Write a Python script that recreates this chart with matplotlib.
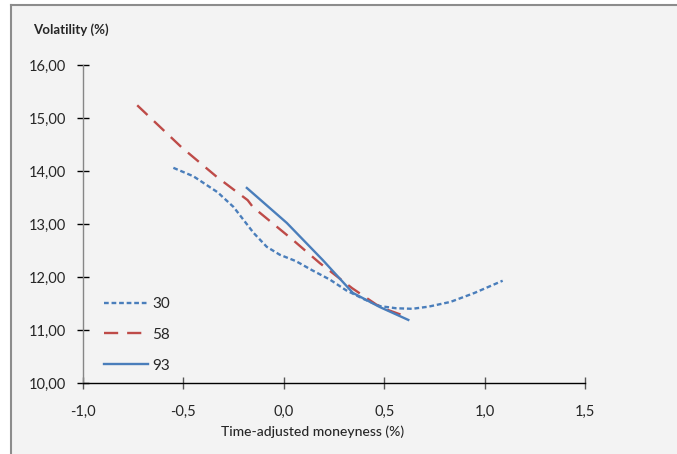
import matplotlib
matplotlib.use("Agg")
import matplotlib.pyplot as plt
from matplotlib.patches import Rectangle
from matplotlib.lines import Line2D
from matplotlib.ticker import FuncFormatter

plt.rcParams['font.family'] = ['Lato', 'DejaVu Sans']

# Data
x30 = [-0.55, -0.45, -0.33, -0.25, -0.15, -0.085, -0.02, 0.06, 0.14, 0.23, 0.31, 0.40, 0.48, 0.56, 0.64, 0.72, 0.83, 0.95, 1.09]
y30 = [14.06, 13.90, 13.60, 13.32, 12.83, 12.57, 12.42, 12.30, 12.13, 11.95, 11.75, 11.58, 11.45, 11.41, 11.40, 11.44, 11.53, 11.70, 11.93]
x58 = [-0.73, -0.51, -0.334, -0.18, -0.154, 0.045, 0.18, 0.34, 0.48, 0.62]
y58 = [15.24, 14.45, 13.89, 13.45, 13.32, 12.70, 12.26, 11.79, 11.43, 11.24]
x93 = [-0.184, 0.015, 0.194, 0.344, 0.48, 0.62]
y93 = [13.68, 13.02, 12.32, 11.70, 11.43, 11.19]
series_labels = ['30', '58', '93']
xticks = [-1.0, -0.5, 0.0, 0.5, 1.0, 1.5]
yticks = [10, 11, 12, 13, 14, 15, 16]

blue = '#4a7ebb'
red = '#be4b48'
txt = '#262626'

fig = plt.figure(figsize=(6.77, 4.54), dpi=100)
fig.patch.set_facecolor('white')
W, H = 677, 454
# chart area background with top/left border
bg = Rectangle((10.5 / W, 0), 1 - 10.5 / W, 1 - 4.5 / H, transform=fig.transFigure,
               facecolor='#f3f3f3', edgecolor='none', zorder=-10)
fig.patches.append(bg)
fig.lines.append(Line2D([10.5 / W, 10.5 / W], [0, 1 - 4.5 / H], transform=fig.transFigure, color='#8c8c8c', lw=1.5, zorder=-9))
fig.lines.append(Line2D([10.5 / W, 1], [1 - 4.5 / H, 1 - 4.5 / H], transform=fig.transFigure, color='#8c8c8c', lw=1.5, zorder=-9))

ax = fig.add_axes([83 / W, 1 - 383 / H, (585 - 83) / W, (383 - 65) / H])
ax.set_facecolor('none')
ax.plot(x30, y30, color=blue, lw=1.7, dashes=(2.0, 1.2), label=series_labels[0])
ax.plot(x58, y58, color=red, lw=1.7, dashes=(6.0, 3.8), label=series_labels[1])
ax.plot(x93, y93, color=blue, lw=1.7, label=series_labels[2])

ax.set_xlim(-1.0, 1.5)
ax.set_ylim(10, 16)
ax.set_xticks(xticks)
ax.set_yticks(yticks)
ax.xaxis.set_major_formatter(FuncFormatter(lambda v, p: f"{v:.1f}".replace('.', ',')))
ax.yaxis.set_major_formatter(FuncFormatter(lambda v, p: f"{v:.2f}".replace('.', ',')))
for s in ['top', 'right']:
    ax.spines[s].set_visible(False)
ax.spines['left'].set_color('#868686')
ax.spines['bottom'].set_color('black')
ax.spines['left'].set_linewidth(1.0)
ax.spines['bottom'].set_linewidth(1.0)
ax.tick_params(axis='y', direction='inout', length=8, width=1.0, color='black', pad=8, labelsize=10.5, labelcolor=txt)
ax.tick_params(axis='x', direction='inout', length=9, width=1.0, color='#555555', pad=11, labelsize=10.5, labelcolor=txt)

leg = ax.legend(loc='upper left', bbox_to_anchor=(21 / 502, (383 - 297) / 318), frameon=False,
                handlelength=2.9, handletextpad=0.25, labelspacing=1.1, fontsize=11,
                borderpad=0, borderaxespad=0)
for t in leg.get_texts():
    t.set_color(txt)

fig.text(33 / W, 1 - 30 / H, 'Volatility (%)', fontsize=9.5, fontweight='bold', color=txt, va='center', ha='left')
fig.text(313 / W, 1 - 432 / H, 'Time-adjusted moneyness (%)', fontsize=10, fontweight='medium', color=txt, va='center', ha='center')

fig.savefig('out.png', dpi=100, facecolor=fig.get_facecolor())
